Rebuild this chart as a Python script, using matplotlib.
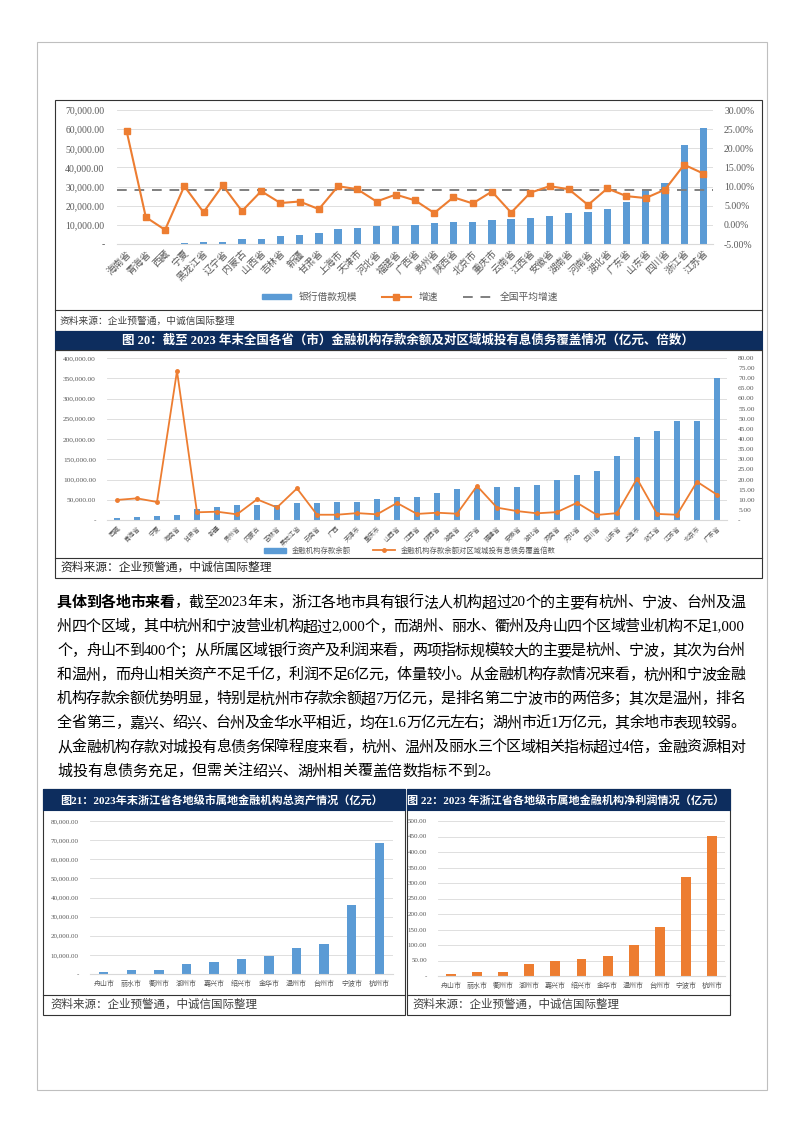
import matplotlib
matplotlib.use('Agg')
import matplotlib.pyplot as plt
from matplotlib.patches import Rectangle, Patch
from matplotlib.lines import Line2D
from matplotlib.ticker import FuncFormatter, MultipleLocator

plt.rcParams['font.family'] = ['Liberation Serif', 'Noto Sans CJK SC', 'DejaVu Sans']

W, H = 802, 1133
BLUE = '#5B9BD5'
ORANGE = '#ED7D31'
NAVY = '#0D2D5E'
GRID = '#D9D9D9'
TICK = '#595959'

# ---- chart 1: bank loans by province ----
prov1 = ['海南省', '青海省', '西藏', '宁夏', '黑龙江省', '辽宁省', '内蒙古', '山西省',
         '吉林省', '新疆', '甘肃省', '上海市', '天津市', '河北省', '福建省', '广西省',
         '贵州省', '陕西省', '北京市', '重庆市', '云南省', '江西省', '安徽省', '湖南省',
         '河南省', '湖北省', '广东省', '山东省', '四川省', '浙江省', '江苏省']
loan1 = [0, 0, 0, 300, 1200, 1200, 2400, 2600, 4000, 4500, 5600, 7800, 8500, 9400,
         9400, 9900, 11000, 11700, 11700, 12500, 12900, 13800, 14500, 16400, 16700,
         18500, 21900, 28200, 32000, 51700, 60400]
growth1 = [24.5, 2.0, -1.3, 10.1, 3.3, 10.3, 3.6, 8.8, 5.7, 6.1, 4.1, 10.1, 9.3, 6.1,
           7.9, 6.4, 3.1, 7.2, 5.6, 8.7, 3.2, 8.4, 10.1, 9.3, 5.2, 9.5, 7.5, 7.0, 9.2,
           15.7, 13.4]
avg1 = 9.2

# ---- chart 2: deposits and coverage ----
prov2 = ['西藏', '青海省', '宁夏', '海南省', '甘肃省', '新疆', '贵州省', '内蒙古', '吉林省',
         '黑龙江省', '云南省', '广西', '天津市', '重庆市', '山西省', '江西省', '陕西省',
         '湖南省', '辽宁省', '福建省', '安徽省', '湖北省', '河南省', '河北省', '四川省',
         '山东省', '上海市', '浙江省', '江苏省', '北京市', '广东省']
dep2 = [5800, 7400, 9000, 13000, 26000, 32000, 36000, 37000, 37000, 43000, 43000,
        44000, 44500, 52500, 58000, 58000, 65700, 77000, 79000, 80500, 82000, 86000,
        99000, 112000, 121000, 159000, 204000, 220000, 245000, 245500, 350000]
cover2 = [9.9, 10.7, 8.9, 73.6, 3.8, 4.1, 2.8, 10.2, 6.2, 15.6, 2.6, 2.6, 3.4, 2.8,
          8.4, 3.0, 3.6, 3.1, 16.8, 6.1, 4.4, 3.3, 3.9, 8.5, 2.5, 3.4, 20.4, 3.0, 2.6,
          18.9, 12.5]

# ---- charts 21 / 22: Zhejiang cities ----
cities = ['舟山市', '丽水市', '衢州市', '湖州市', '嘉兴市', '绍兴市', '金华市', '温州市',
          '台州市', '宁波市', '杭州市']
assets = [870, 2000, 1900, 5200, 6100, 8000, 9400, 13400, 15500, 36300, 68300]
profit = [5.4, 12.9, 12.6, 39.9, 47.4, 55.0, 65.7, 101.3, 158.4, 317.9, 452.6]

body = [
    [('具体到各地市来看', 'bold'), ('，截至2023年末，浙江各地市具有银行法人机构超过20个的主要有杭州、宁波、台州及温', 'normal')],
    [('州四个区域，其中杭州和宁波营业机构超过2,000个，而湖州、丽水、衢州及舟山四个区域营业机构不足1,000', 'normal')],
    [('个，舟山不到400个；从所属区域银行资产及利润来看，两项指标规模较大的主要是杭州、宁波，其次为台州', 'normal')],
    [('和温州，而舟山相关资产不足千亿，利润不足6亿元，体量较小。从金融机构存款情况来看，杭州和宁波金融', 'normal')],
    [('机构存款余额优势明显，特别是杭州市存款余额超7万亿元，是排名第二宁波市的两倍多；其次是温州，排名', 'normal')],
    [('全省第三，嘉兴、绍兴、台州及金华水平相近，均在1.6万亿元左右；湖州市近1万亿元，其余地市表现较弱。', 'normal')],
    [('从金融机构存款对城投有息债务保障程度来看，杭州、温州及丽水三个区域相关指标超过4倍，金融资源相对', 'normal')],
    [('城投有息债务充足，但需关注绍兴、湖州相关覆盖倍数指标不到2。', 'normal')],
]
SOURCE = '资料来源：企业预警通，中诚信国际整理'


def fx(x):
    return x / W


def fy(y):
    return 1 - y / H


def axes_at(l, t, r, b):
    return fig.add_axes([fx(l), fy(b), (r - l) / W, (b - t) / H])


def box(l, t, r, b, ec='#333333', fc='none', lw=0.8):
    fig.add_artist(Rectangle((fx(l), fy(b)), (r - l) / W, (b - t) / H,
                             transform=fig.transFigure, ec=ec, fc=fc, lw=lw))


def hline(y, l, r, color='#333333', lw=0.8):
    fig.add_artist(Line2D([fx(l), fx(r)], [fy(y), fy(y)],
                          transform=fig.transFigure, color=color, lw=lw))


def num_fmt(v, pos):
    return '-' if abs(v) < 1e-9 else f'{v:,.2f}'


def style_axes(ax, size):
    for s in ax.spines.values():
        s.set_visible(False)
    ax.spines['bottom'].set_visible(True)
    ax.spines['bottom'].set_color(GRID)
    ax.grid(axis='y', color=GRID, lw=0.6)
    ax.set_axisbelow(True)
    ax.tick_params(length=0, labelsize=size, labelcolor=TICK)


fig = plt.figure(figsize=(W / 100, H / 100), dpi=100)
fig.patch.set_facecolor('white')

# page border
box(37, 42, 767, 1090, ec='#BFBFBF', lw=0.8)

# ===== chart 1 =====
box(55, 100, 762, 331)
hline(310, 55, 762)
ax1 = axes_at(117, 110, 713, 244)
x1 = list(range(len(prov1)))
ax1.bar(x1, loan1, width=0.38, color=BLUE, zorder=2)
ax1.set_xlim(-0.5, len(prov1) - 0.5)
ax1.set_ylim(0, 70000)
ax1.yaxis.set_major_locator(MultipleLocator(10000))
ax1.yaxis.set_major_formatter(FuncFormatter(num_fmt))
style_axes(ax1, 7)
ax1.tick_params(axis='y', pad=9)
ax1.set_xticks(x1)
ax1.set_xticklabels(prov1, rotation=45, ha='right', rotation_mode='anchor', fontsize=7)
ax1r = ax1.twinx()
ax1r.axhline(avg1, color='#7F7F7F', ls=(0, (5, 4)), lw=1.4)
ax1r.plot(x1, growth1, color=ORANGE, marker='s', ms=4, lw=1.5)
ax1r.set_ylim(-5, 30)
ax1r.yaxis.set_major_locator(MultipleLocator(5))
ax1r.yaxis.set_major_formatter(FuncFormatter(lambda v, p: f'{v:.2f}%'))
for s in ax1r.spines.values():
    s.set_visible(False)
ax1r.tick_params(length=0, labelsize=7, labelcolor=TICK, pad=8)
h1 = [Patch(color=BLUE),
      Line2D([0], [0], color=ORANGE, marker='s', ms=4, lw=1.5),
      Line2D([0], [0], color='#7F7F7F', ls=(0, (5, 4)), lw=1.4)]
fig.legend(h1, ['银行借款规模', '增速', '全国平均增速'], loc='center',
           bbox_to_anchor=(fx(410), fy(297)), ncol=3, frameon=False, fontsize=7,
           handlelength=3, handleheight=0.5, columnspacing=2.5, labelcolor=TICK)
fig.text(fx(60), fy(321), SOURCE, fontsize=7, color='#404040', va='center')

# ===== chart 2 =====
box(55, 331, 762, 350, ec=NAVY, fc=NAVY)
fig.text(fx(408), fy(341),
         '图 20：截至 2023 年末全国各省（市）金融机构存款余额及对区域城投有息债务覆盖情况（亿元、倍数）',
         color='white', fontsize=9, fontweight='bold', ha='center', va='center')
box(55, 350, 762, 578)
hline(558, 55, 762)
ax2 = axes_at(107, 358, 727, 520)
x2 = list(range(len(prov2)))
ax2.bar(x2, dep2, width=0.32, color=BLUE, zorder=2)
ax2.set_xlim(-0.5, len(prov2) - 0.5)
ax2.set_ylim(0, 400000)
ax2.yaxis.set_major_locator(MultipleLocator(50000))
ax2.yaxis.set_major_formatter(FuncFormatter(num_fmt))
style_axes(ax2, 5.3)
ax2.tick_params(axis='y', pad=8)
ax2.set_xticks(x2)
ax2.set_xticklabels(prov2, rotation=45, ha='right', rotation_mode='anchor', fontsize=4.6)
ax2r = ax2.twinx()
ax2r.plot(x2, cover2, color=ORANGE, marker='o', ms=2.5, lw=1.3)
ax2r.set_ylim(0, 80)
ax2r.yaxis.set_major_locator(MultipleLocator(5))
ax2r.yaxis.set_major_formatter(FuncFormatter(num_fmt))
for s in ax2r.spines.values():
    s.set_visible(False)
ax2r.tick_params(length=0, labelsize=5.3, labelcolor=TICK, pad=8)
h2 = [Patch(color=BLUE), Line2D([0], [0], color=ORANGE, marker='o', ms=2.5, lw=1.3)]
fig.legend(h2, ['金融机构存款余额', '金融机构存款余额对区域城投有息债务覆盖倍数'], loc='center',
           bbox_to_anchor=(fx(410), fy(550)), ncol=2, frameon=False, fontsize=5.3,
           handlelength=3, handleheight=0.6, columnspacing=3, labelcolor=TICK)
fig.text(fx(60), fy(568), SOURCE, fontsize=8.5, color='#262626', va='center')

# ===== body text (justified lines) =====
renderer = fig.canvas.get_renderer()
X0, X1 = 57, 745
for i, line in enumerate(body):
    y = 603 + i * 24.1
    tokens = []
    for s, w in line:
        buf = ''
        for ch in s:
            if ord(ch) < 128:
                buf += ch
            else:
                if buf:
                    tokens.append((buf, w))
                    buf = ''
                tokens.append((ch, w))
        if buf:
            tokens.append((buf, w))
    arts = [fig.text(0, fy(y), t, fontsize=10.8, fontweight=w, va='center', ha='left',
                     color='black') for t, w in tokens]
    widths = [a.get_window_extent(renderer).width for a in arts]
    gap = 0 if i == len(body) - 1 else (X1 - X0 - sum(widths)) / (len(arts) - 1)
    xc = X0
    for a, wd in zip(arts, widths):
        a.set_x(fx(xc))
        xc += wd + gap

# ===== chart 21 =====
box(43, 789, 405, 1015)
box(43, 789, 405, 810, ec=NAVY, fc=NAVY)
hline(995, 43, 405)
fig.text(fx(222), fy(800), '图21：2023年末浙江省各地级市属地金融机构总资产情况（亿元）',
         color='white', fontsize=8, fontweight='bold', ha='center', va='center')
ax3 = axes_at(90, 821, 393, 974)
xc3 = list(range(len(cities)))
ax3.bar(xc3, assets, width=0.34, color=BLUE, zorder=2)
ax3.set_xlim(-0.5, len(cities) - 0.5)
ax3.set_ylim(0, 80000)
ax3.yaxis.set_major_locator(MultipleLocator(10000))
ax3.yaxis.set_major_formatter(FuncFormatter(num_fmt))
style_axes(ax3, 5)
ax3.tick_params(axis='y', pad=8)
ax3.tick_params(axis='x', pad=4)
ax3.set_xticks(xc3)
ax3.set_xticklabels(cities, fontsize=5)
fig.text(fx(50), fy(1005), SOURCE, fontsize=8.3, color='#404040', va='center')

# ===== chart 22 =====
box(407, 789, 730, 1015)
box(407, 789, 730, 810, ec=NAVY, fc=NAVY)
hline(995, 407, 730)
fig.text(fx(566), fy(800), '图 22：2023 年浙江省各地级市属地金融机构净利润情况（亿元）',
         color='white', fontsize=8, fontweight='bold', ha='center', va='center')
ax4 = axes_at(438, 821, 725, 976)
ax4.bar(xc3, profit, width=0.38, color=ORANGE, zorder=2)
ax4.set_xlim(-0.5, len(cities) - 0.5)
ax4.set_ylim(0, 500)
ax4.yaxis.set_major_locator(MultipleLocator(50))
ax4.yaxis.set_major_formatter(FuncFormatter(num_fmt))
style_axes(ax4, 5)
ax4.tick_params(axis='y', pad=8)
ax4.tick_params(axis='x', pad=4)
ax4.set_xticks(xc3)
ax4.set_xticklabels(cities, fontsize=5)
fig.text(fx(412), fy(1005), SOURCE, fontsize=8.3, color='#404040', va='center')

fig.savefig('out.png', dpi=100)
